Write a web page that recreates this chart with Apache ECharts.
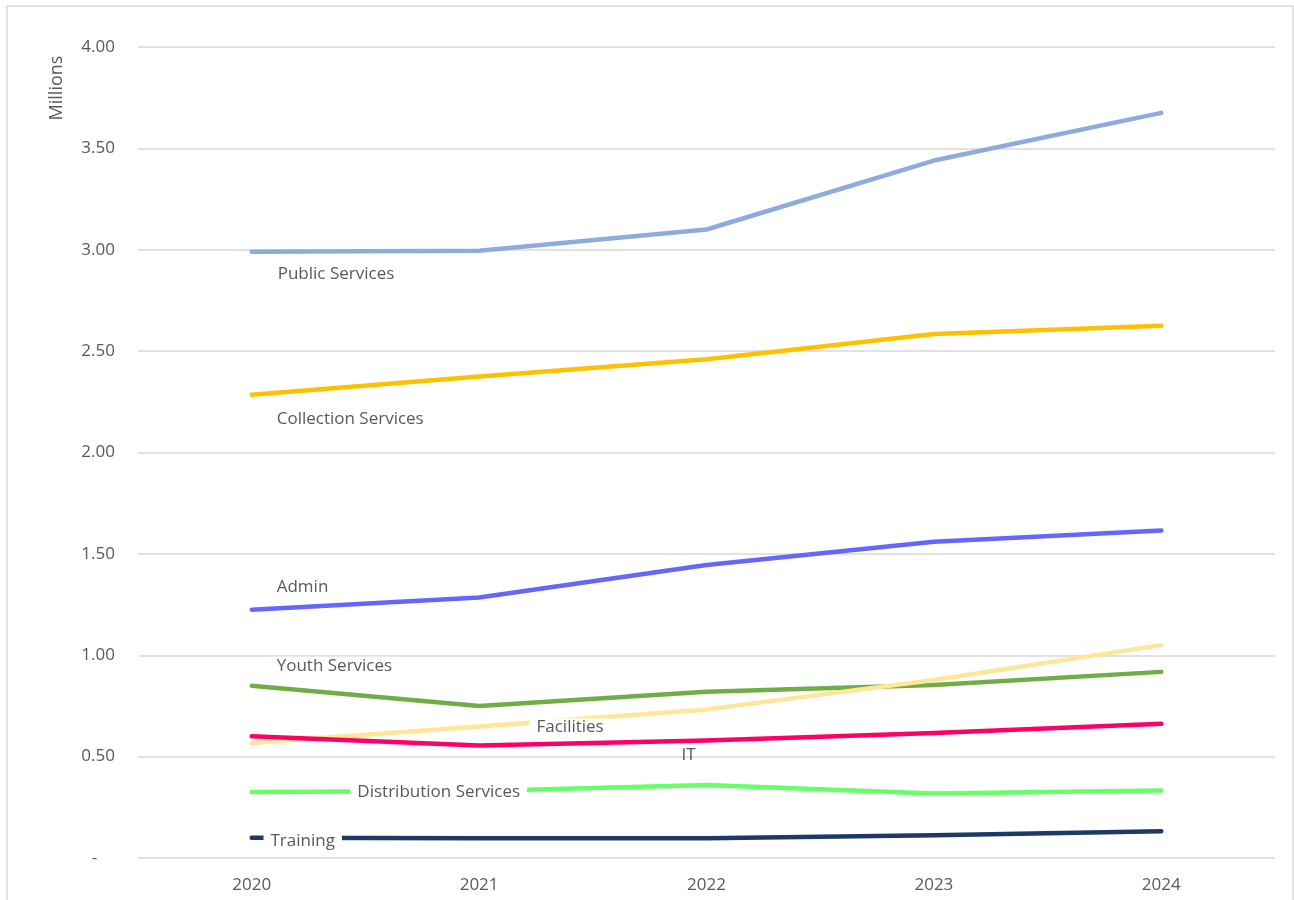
<!DOCTYPE html>
<html>
<head>
<meta charset="utf-8">
<script src="https://cdn.jsdelivr.net/npm/echarts@6/dist/echarts.min.js"></script>
<style>html,body{margin:0;padding:0;background:#fff}#c{width:1294px;height:900px}</style>
</head>
<body>
<div id="c"></div>
<script>
const years = ['2020', '2021', '2022', '2023', '2024'];
const yTicks = [0, 0.5, 1.0, 1.5, 2.0, 2.5, 3.0, 3.5, 4.0];
const publicServices = [2.99, 2.995, 3.10, 3.44, 3.675];
const collectionServices = [2.285, 2.375, 2.46, 2.585, 2.625];
const admin = [1.225, 1.285, 1.445, 1.56, 1.615];
const youthServices = [0.85, 0.75, 0.82, 0.853, 0.918];
const facilities = [0.567, 0.648, 0.733, 0.878, 1.05];
const it = [0.60, 0.555, 0.58, 0.616, 0.662];
const distributionServices = [0.325, 0.33, 0.36, 0.318, 0.333];
const training = [0.10, 0.097, 0.097, 0.112, 0.132];

const seriesDefs = [
  {name: 'Public Services', data: publicServices, color: '#8faadc', labelAt: 0, off: [19, 22], align: 'left', bg: true},
  {name: 'Collection Services', data: collectionServices, color: '#ffc000', labelAt: 0, off: [18, 24], align: 'left', bg: true},
  {name: 'Admin', data: admin, color: '#6666ff', labelAt: 0, off: [18, -22], align: 'left', bg: true},
  {name: 'Youth Services', data: youthServices, color: '#70ad47', labelAt: 0, off: [18, -20], align: 'left', bg: true},
  {name: 'Facilities', data: facilities, color: '#ffe699', labelAt: 1, off: [91, 1], align: 'center', bg: true},
  {name: 'IT', data: it, color: '#ff0066', labelAt: 2, off: [-18, 15], align: 'center', bg: false},
  {name: 'Distribution Services', data: distributionServices, color: '#66ff66', labelAt: 0, off: [187, 0], align: 'center', bg: true},
  {name: 'Training', data: training, color: '#203864', labelAt: 0, off: [51, 3], align: 'center', bg: true}
];

const FONT = 'Open Sans';
const TEXT = '#595959';

const lineSeries = seriesDefs.map(d => ({
  name: d.name,
  type: 'line',
  data: d.data,
  showSymbol: false,
  symbol: 'none',
  lineStyle: {color: d.color, width: 4.5, cap: 'round', join: 'round'},
  itemStyle: {color: d.color},
  z: 2,
  silent: true
}));

const chart = echarts.init(document.getElementById('c'), null, {renderer: 'canvas'});
const baseGraphic = [
  {type: 'rect', shape: {x: 7, y: 6, width: 1286, height: 900}, style: {fill: 'none', stroke: '#d9d9d9', lineWidth: 1.5}, silent: true, z: 0},
  {type: 'text', x: 57, y: 88, rotation: Math.PI / 2,
   style: {text: 'Millions', align: 'center', verticalAlign: 'middle', fill: TEXT, font: '18px "Open Sans"'}, silent: true}
];
chart.setOption({
  animation: false,
  backgroundColor: '#ffffff',
  grid: {left: 138, right: 19, top: 47, bottom: 42, containLabel: false},
  graphic: baseGraphic,
  xAxis: {
    type: 'category',
    data: years,
    boundaryGap: true,
    axisLine: {show: false},
    axisTick: {show: false},
    axisLabel: {color: TEXT, fontFamily: FONT, fontSize: 17, margin: 19}
  },
  yAxis: {
    type: 'value',
    min: 0, max: 4, interval: 0.5,
    axisLine: {show: false},
    axisTick: {show: false},
    splitLine: {lineStyle: {color: '#d9d9d9', width: 1.5}},
    axisLabel: {
      color: TEXT, fontFamily: FONT, fontSize: 17, margin: 23,
      formatter: v => (yTicks.indexOf(v) === 0 ? '-' + '    ' : v.toFixed(2))
    }
  },
  series: lineSeries
});

// Series name labels, positioned from the data points through the chart's own scales
const labelGraphics = seriesDefs.map((d, i) => {
  const p = chart.convertToPixel({seriesIndex: i}, [d.labelAt, d.data[d.labelAt]]);
  return {
    type: 'text',
    x: p[0] + d.off[0],
    y: p[1] + d.off[1],
    z: 100,
    silent: true,
    style: {
      text: d.name,
      align: d.align,
      verticalAlign: 'middle',
      fill: TEXT,
      font: '17px "Open Sans"',
      lineHeight: 18,
      backgroundColor: d.bg ? '#ffffff' : null,
      padding: d.bg ? [0, 7] : 0
    }
  };
});
chart.setOption({graphic: baseGraphic.concat(labelGraphics)});
</script>
</body>
</html>
